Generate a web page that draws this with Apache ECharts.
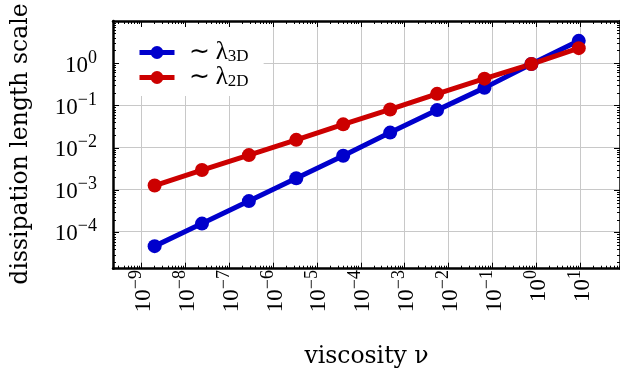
<!DOCTYPE html>
<html>
<head>
<meta charset="utf-8">
<script src="https://cdn.jsdelivr.net/npm/echarts@6/dist/echarts.min.js"></script>
<style>
  html, body { margin: 0; background: #fff; }
  #chart { width: 620px; height: 374px; }
</style>
</head>
<body>
<div id="chart"></div>
<script>
// data
const viscosity = [2.00e-9, 2.40e-8, 2.82e-7, 3.39e-6, 3.98e-5, 4.68e-4, 5.50e-3, 6.61e-2, 0.776, 9.33];
const lambda3D = [4.43e-5, 1.52e-4, 5.22e-4, 1.82e-3, 6.24e-3, 2.22e-2, 7.60e-2, 0.257, 0.946, 3.37];
const lambda2D = [1.22e-3, 2.86e-3, 6.47e-3, 1.49e-2, 3.49e-2, 7.89e-2, 0.185, 0.426, 0.946, 2.26];
const xTickExp = [-9, -8, -7, -6, -5, -4, -3, -2, -1, 0, 1];
const yTickExp = [-4, -3, -2, -1, 0];

const FONT = 'Liberation Serif';
const NAME_FONT = 'DejaVu Serif';
const xMin = Math.pow(10, -9.648), xMax = Math.pow(10, 1.91);
const yMin = Math.pow(10, -4.85), yMax = Math.pow(10, 1.0);

function majors(exps) {
  return exps.map(e => Math.pow(10, e));
}
function minors(exps) {
  let out = [];
  for (let e = exps[0] - 1; e <= exps[exps.length - 1]; e++) {
    for (let m = 2; m <= 9; m++) out.push(m * Math.pow(10, e));
  }
  return out;
}
function sup(v) {
  let e = Math.round(Math.log10(v));
  return '{b|10}{e|' + String(e).replace('-', '\u2212') + '}';
}

const labelRich = {
  b: { fontFamily: FONT, fontSize: 23, color: '#000', verticalAlign: 'bottom', lineHeight: 24 },
  e: { fontFamily: FONT, fontSize: 18, color: '#000', verticalAlign: 'bottom', padding: [0, 0, 10, 0] }
};
const frame = { show: true, lineStyle: { color: '#000', width: 2.5 } };
const noLine = { show: false };
const grayLines = { show: true, lineStyle: { color: '#c8c8c8', width: 1 } };

function axis(kind, pos, grid, ticks, len, extra) {
  let a = {
    type: 'log', logBase: 10, gridIndex: grid, position: pos,
    min: kind === 'x' ? xMin : yMin,
    max: kind === 'x' ? xMax : yMax,
    z: 5,
    axisLine: noLine,
    axisTick: { show: len > 0, inside: true, length: len, customValues: ticks, lineStyle: { color: '#000', width: 1 } },
    axisLabel: { show: false },
    splitLine: { show: false }
  };
  return Object.assign(a, extra || {});
}

const gridBox = { left: 113, top: 21, right: -5, bottom: 105.3 };

const chart = echarts.init(document.getElementById('chart'));
chart.setOption({
  animation: false,
  // grid 0: data, labels, grid lines; grid 1: frame + major ticks; grid 2: minor ticks
  grid: [Object.assign({}, gridBox), Object.assign({}, gridBox), Object.assign({}, gridBox)],
  legend: {
    left: 115, top: 23,
    orient: 'vertical',
    backgroundColor: '#fff',
    padding: [17, 15, 6, 22],
    itemGap: 0,
    itemWidth: 35, itemHeight: 16,
    lineStyle: { width: 5 },
    formatter: n => '{a|\u223C \u03BB}{s|' + n + '}',
    textStyle: {
      rich: {
        a: { fontFamily: FONT, fontSize: 25, color: '#000', padding: [0, 0, 0, 9], lineHeight: 25, verticalAlign: 'bottom' },
        s: { fontFamily: FONT, fontSize: 17, color: '#000', lineHeight: 25, verticalAlign: 'bottom' }
      }
    },
    data: ['3D', '2D']
  },
  xAxis: [
    axis('x', 'bottom', 0, majors(xTickExp), 0, {
      z: 0,
      name: 'viscosity \u03BD', nameLocation: 'middle', nameGap: 78,
      nameTextStyle: { fontFamily: NAME_FONT, fontSize: 23.5, color: '#000' },
      axisLabel: { show: true, rotate: 90, margin: 3, customValues: majors(xTickExp), formatter: sup, rich: labelRich },
      splitLine: grayLines
    }),
    axis('x', 'bottom', 1, majors(xTickExp), 6, { axisLine: frame }),
    axis('x', 'top', 1, majors(xTickExp), 6, { axisLine: frame }),
    axis('x', 'bottom', 2, minors(xTickExp), 3),
    axis('x', 'top', 2, minors(xTickExp), 3)
  ],
  yAxis: [
    axis('y', 'left', 0, majors(yTickExp), 0, {
      z: 0,
      name: 'dissipation length scale', nameLocation: 'middle', nameGap: 80,
      nameTextStyle: { fontFamily: NAME_FONT, fontSize: 23.5, color: '#000' },
      axisLabel: { show: true, margin: 16, customValues: majors(yTickExp), formatter: sup, rich: labelRich },
      splitLine: grayLines
    }),
    axis('y', 'left', 1, majors(yTickExp), 6, { axisLine: frame }),
    axis('y', 'right', 1, majors(yTickExp), 6, { axisLine: frame }),
    axis('y', 'left', 2, minors(yTickExp), 3),
    axis('y', 'right', 2, minors(yTickExp), 3)
  ],
  series: [
    {
      name: '3D', type: 'line', xAxisIndex: 0, yAxisIndex: 0,
      data: viscosity.map((v, i) => [v, lambda3D[i]]),
      symbol: 'circle', symbolSize: 14,
      lineStyle: { color: '#0000cc', width: 5 },
      itemStyle: { color: '#0000cc' }
    },
    {
      name: '2D', type: 'line', xAxisIndex: 0, yAxisIndex: 0,
      data: viscosity.map((v, i) => [v, lambda2D[i]]),
      symbol: 'circle', symbolSize: 14,
      lineStyle: { color: '#cc0000', width: 5 },
      itemStyle: { color: '#cc0000' }
    }
  ]
});
</script>
</body>
</html>
